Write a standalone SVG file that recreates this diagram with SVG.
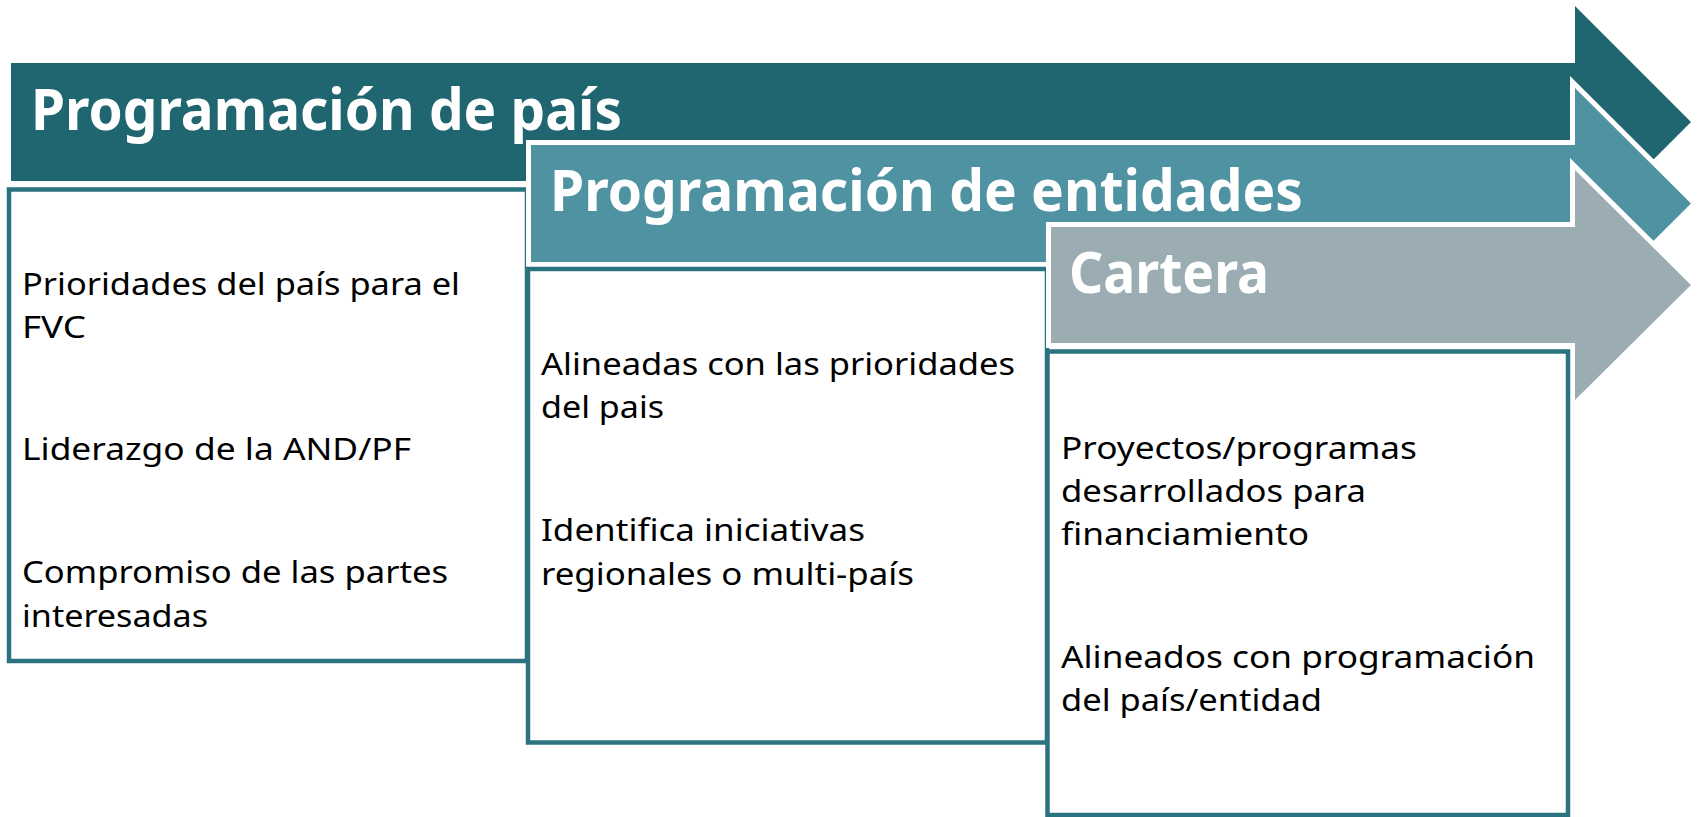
<svg xmlns="http://www.w3.org/2000/svg" width="1698" height="817" viewBox="0 0 1698 817">
<style>
.arrow{stroke:#ffffff;stroke-width:10;paint-order:stroke;stroke-linejoin:miter}
.a1{fill:#206670}
.a2{fill:#4F93A3}
.a3{fill:#9BADB3}
.box{fill:#ffffff;stroke:#2B7380;stroke-width:4.5}
.title{font-family:"Noto Sans","Open Sans","DejaVu Sans",sans-serif;font-weight:700;font-size:58px;fill:#ffffff}
.body{font-family:"Noto Sans","Open Sans","DejaVu Sans",sans-serif;font-size:31px;fill:#000000}
</style>
<rect width="1698" height="817" fill="#ffffff"/>
<g id="stage1-arrow">
<path class="a1" d="M11,63 H1575 V6 L1691,122 L1575,238 V181 H11 Z"/>
<text class="title" x="31" y="130" textLength="591" lengthAdjust="spacingAndGlyphs">Programación de país</text>
</g>
<g id="stage1-box">
<rect class="box" x="9" y="189.5" width="518" height="471.5"/>
<text class="body" x="22" y="295" textLength="438" lengthAdjust="spacingAndGlyphs">Prioridades del país para el</text>
<text class="body" x="22" y="338" textLength="64" lengthAdjust="spacingAndGlyphs">FVC</text>
<text class="body" x="22" y="460" textLength="389" lengthAdjust="spacingAndGlyphs">Liderazgo de la AND/PF</text>
<text class="body" x="22" y="583" textLength="426" lengthAdjust="spacingAndGlyphs">Compromiso de las partes</text>
<text class="body" x="22" y="627" textLength="186" lengthAdjust="spacingAndGlyphs">interesadas</text>
</g>
<g id="stage2-arrow">
<path class="arrow a2" d="M531,145 H1575 V88 L1691,203.5 L1575,319 V262 H531 Z"/>
<text class="title" x="550" y="211" textLength="753" lengthAdjust="spacingAndGlyphs">Programación de entidades</text>
</g>
<g id="stage2-box">
<rect class="box" x="528" y="269" width="519" height="473.5"/>
<text class="body" x="541" y="375" textLength="474" lengthAdjust="spacingAndGlyphs">Alineadas con las prioridades</text>
<text class="body" x="541" y="418" textLength="123" lengthAdjust="spacingAndGlyphs">del pais</text>
<text class="body" x="541" y="541" textLength="324" lengthAdjust="spacingAndGlyphs">Identifica iniciativas</text>
<text class="body" x="541" y="585" textLength="373" lengthAdjust="spacingAndGlyphs">regionales o multi-país</text>
</g>
<g id="stage3-arrow">
<path class="arrow a3" d="M1051,227 H1575 V170 L1691,285 L1575,400 V343 H1051 Z"/>
<text class="title" x="1069" y="293" textLength="200" lengthAdjust="spacingAndGlyphs">Cartera</text>
</g>
<g id="stage3-box">
<rect class="box" x="1047.5" y="351.5" width="520.5" height="463.5"/>
<text class="body" x="1061" y="459" textLength="356" lengthAdjust="spacingAndGlyphs">Proyectos/programas</text>
<text class="body" x="1061" y="502" textLength="305" lengthAdjust="spacingAndGlyphs">desarrollados para</text>
<text class="body" x="1061" y="545" textLength="248" lengthAdjust="spacingAndGlyphs">financiamiento</text>
<text class="body" x="1061" y="668" textLength="474" lengthAdjust="spacingAndGlyphs">Alineados con programación</text>
<text class="body" x="1061" y="711" textLength="261" lengthAdjust="spacingAndGlyphs">del país/entidad</text>
</g>
<g id="connectors"/>
</svg>
